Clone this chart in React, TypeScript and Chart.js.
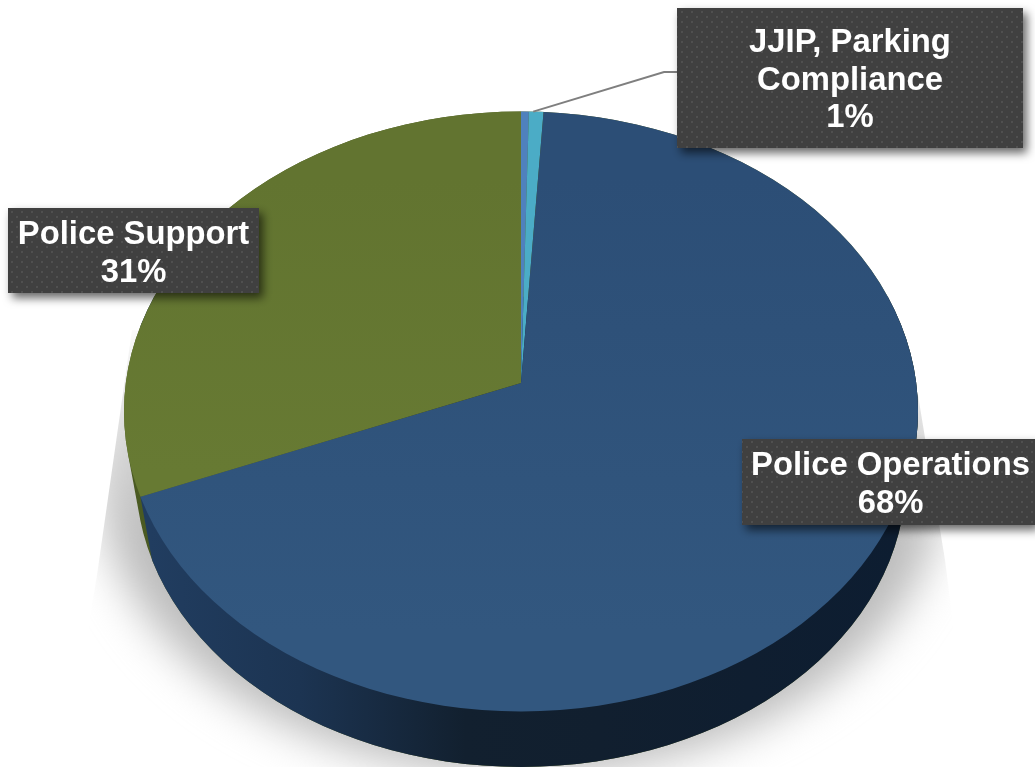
import React, { useEffect, useRef } from "react";
import { Chart, registerables } from "chart.js";

Chart.register(...registerables);

// Budget shares, clockwise from twelve o'clock
const categories = ["JJIP", "Parking Compliance", "Police Operations", "Police Support"];
const shares = [0.35, 0.65, 68, 31];
const sliceTop = ["#4f81bd", "#4bacc6", "", "#64762f"];

// Callout text, one entry per line
const calloutJjip = ["JJIP, Parking", "Compliance", "1%"];
const calloutSupport = ["Police Support", "31%"];
const calloutOperations = ["Police Operations", "68%"];

// Tilted-disc geometry
const TOP = { cx: 521, cy: 411.5, rx: 397, ry: 300 };
const BOTTOM = { cx: 521, cy: 477, rx: 385, ry: 290 };
const TILT = TOP.ry / TOP.rx;

const FONT = 'bold 32.8px "Liberation Sans", Arial, sans-serif';
const LINE_HEIGHT = 37.5;

function rimPoint(cx0: number, cy0: number, angle: number) {
  // Where a ray from the apex, in the tilted plane, meets the top ellipse
  const dx = Math.cos(angle) / TOP.rx;
  const dy = (Math.sin(angle) * TILT) / TOP.ry;
  const ox = (cx0 - TOP.cx) / TOP.rx;
  const oy = (cy0 - TOP.cy) / TOP.ry;
  const a = dx * dx + dy * dy;
  const b = 2 * (ox * dx + oy * dy);
  const c = ox * ox + oy * oy - 1;
  const t = (-b + Math.sqrt(b * b - 4 * a * c)) / (2 * a);
  return { x: cx0 + t * Math.cos(angle), y: cy0 + t * Math.sin(angle) * TILT };
}

function sweptPath(ctx: CanvasRenderingContext2D) {
  ctx.beginPath();
  for (let i = 0; i <= 60; i++) {
    const t = i / 60;
    const cx = TOP.cx + (BOTTOM.cx - TOP.cx) * t;
    const cy = TOP.cy + (BOTTOM.cy - TOP.cy) * t;
    const rx = TOP.rx + (BOTTOM.rx - TOP.rx) * t;
    const ry = TOP.ry + (BOTTOM.ry - TOP.ry) * t;
    ctx.moveTo(cx + rx, cy);
    ctx.ellipse(cx, cy, rx, ry, 0, 0, Math.PI * 2);
  }
}

function drawShadow(ctx: CanvasRenderingContext2D) {
  ctx.save();
  ctx.beginPath();
  ctx.moveTo(132, 330);
  ctx.lineTo(97, 575);
  ctx.lineTo(60, 800);
  ctx.lineTo(975, 800);
  ctx.lineTo(945, 560);
  ctx.lineTo(918, 395);
  ctx.closePath();
  ctx.clip();
  ctx.filter = "blur(22px)";
  const fade = ctx.createLinearGradient(0, 320, 0, 540);
  fade.addColorStop(0, "#eeeeee");
  fade.addColorStop(1, "#bcbcbc");
  ctx.fillStyle = fade;
  ctx.beginPath();
  ctx.ellipse(BOTTOM.cx, BOTTOM.cy - 2, BOTTOM.rx + 38, BOTTOM.ry + 10, 0, 0, Math.PI * 2);
  ctx.fill();
  ctx.restore();
}

function drawWall(ctx: CanvasRenderingContext2D, chart: Chart) {
  const arcs = chart.getDatasetMeta(0).data as any[];
  const ax = arcs[0].x;
  const ay = arcs[0].y;
  const seam = rimPoint(ax, ay, arcs[2].endAngle);
  const low = {
    x: BOTTOM.cx + ((seam.x - TOP.cx) / TOP.rx) * BOTTOM.rx,
    y: BOTTOM.cy + ((seam.y - TOP.cy) / TOP.ry) * BOTTOM.ry,
  };

  ctx.fillStyle = "#4a5a22";
  sweptPath(ctx);
  ctx.fill();

  ctx.save();
  ctx.beginPath();
  ctx.moveTo(seam.x, seam.y);
  ctx.lineTo(low.x, low.y);
  ctx.lineTo(low.x, 900);
  ctx.lineTo(1100, 900);
  ctx.lineTo(1100, seam.y - 200);
  ctx.lineTo(seam.x, seam.y - 200);
  ctx.closePath();
  ctx.clip();
  const wall = ctx.createLinearGradient(150, 0, 900, 0);
  wall.addColorStop(0, "#213d60");
  wall.addColorStop(0.2, "#1c3452");
  wall.addColorStop(0.42, "#12202f");
  wall.addColorStop(0.6, "#111f2f");
  wall.addColorStop(1, "#0d1d31");
  ctx.fillStyle = wall;
  sweptPath(ctx);
  ctx.fill();
  ctx.restore();
}

const discPlugin = {
  id: "tiltedDisc",
  beforeDatasetsDraw(chart: Chart) {
    const ctx = chart.ctx;
    const arc = chart.getDatasetMeta(0).data[0] as any;
    drawShadow(ctx);
    drawWall(ctx, chart);
    ctx.save();
    ctx.beginPath();
    ctx.ellipse(TOP.cx, TOP.cy, TOP.rx, TOP.ry, 0, 0, Math.PI * 2);
    ctx.clip();
    ctx.translate(arc.x, arc.y);
    ctx.scale(1, TILT);
    ctx.translate(-arc.x, -arc.y);
  },
  afterDatasetsDraw(chart: Chart) {
    chart.ctx.restore();
  },
};

function dotPattern(ctx: CanvasRenderingContext2D) {
  const tile = document.createElement("canvas");
  tile.width = 10;
  tile.height = 10;
  const t = tile.getContext("2d")!;
  t.fillStyle = "#404040";
  t.fillRect(0, 0, 10, 10);
  t.fillStyle = "#545454";
  for (const [x, y] of [[2, 2], [7, 7]]) {
    t.beginPath();
    t.arc(x, y, 1.1, 0, Math.PI * 2);
    t.fill();
  }
  return ctx.createPattern(tile, "repeat")!;
}

function drawCallout(
  ctx: CanvasRenderingContext2D,
  lines: string[],
  box: { x: number; y: number; w: number; h: number; first: number; nudge: number },
) {
  ctx.save();
  ctx.shadowColor = "rgba(0,0,0,0.6)";
  ctx.shadowBlur = 10;
  ctx.shadowOffsetX = 4;
  ctx.shadowOffsetY = 5;
  ctx.fillStyle = dotPattern(ctx);
  ctx.fillRect(box.x, box.y, box.w, box.h);
  ctx.restore();

  ctx.fillStyle = "#ffffff";
  ctx.font = FONT;
  ctx.textAlign = "center";
  ctx.textBaseline = "alphabetic";
  lines.forEach((line, i) => {
    ctx.fillText(line, box.x + box.w / 2 + box.nudge, box.first + i * LINE_HEIGHT);
  });
}

const calloutPlugin = {
  id: "callouts",
  afterDraw(chart: Chart) {
    const ctx = chart.ctx;
    const arcs = chart.getDatasetMeta(0).data as any[];
    const start = rimPoint(arcs[0].x, arcs[0].y, arcs[1].startAngle + 0.012);

    ctx.save();
    ctx.strokeStyle = "#7f7f7f";
    ctx.lineWidth = 2;
    ctx.beginPath();
    ctx.moveTo(start.x, start.y);
    ctx.lineTo(664, 72);
    ctx.lineTo(680, 72);
    ctx.stroke();
    ctx.restore();

    drawCallout(ctx, calloutJjip, { x: 677, y: 8, w: 346, h: 140, first: 52, nudge: 0 });
    drawCallout(ctx, calloutSupport, { x: 8, y: 208, w: 251, h: 85, first: 244, nudge: 0 });
    drawCallout(ctx, calloutOperations, { x: 742, y: 439, w: 293, h: 86, first: 475, nudge: 2 });
  },
};

export default function App() {
  const ref = useRef<HTMLCanvasElement>(null);

  useEffect(() => {
    const canvas = ref.current!;
    const ctx = canvas.getContext("2d")!;
    const navy = ctx.createLinearGradient(0, 112, 0, 711);
    navy.addColorStop(0, "#2c4e76");
    navy.addColorStop(1, "#32577f");
    const green = ctx.createLinearGradient(0, 112, 0, 500);
    green.addColorStop(0, "#627430");
    green.addColorStop(1, "#677a33");
    const colors = sliceTop.map((c, i) => (i === 2 ? navy : i === 3 ? green : c));

    const chart = new Chart(canvas, {
      type: "pie",
      data: {
        labels: categories,
        datasets: [{ data: shares, backgroundColor: colors as any, borderWidth: 0 }],
      },
      options: {
        responsive: false,
        animation: false,
        radius: 600,
        layout: { padding: { left: 7, bottom: 1 } },
        plugins: { legend: { display: false }, tooltip: { enabled: false } },
      } as any,
      plugins: [discPlugin, calloutPlugin] as any,
    });
    return () => chart.destroy();
  }, []);

  return (
    <div style={{ position: "absolute", left: 0, top: 0, width: 1035, height: 767, background: "#fff" }}>
      <canvas ref={ref} width={1035} height={767} style={{ display: "block" }} />
    </div>
  );
}
